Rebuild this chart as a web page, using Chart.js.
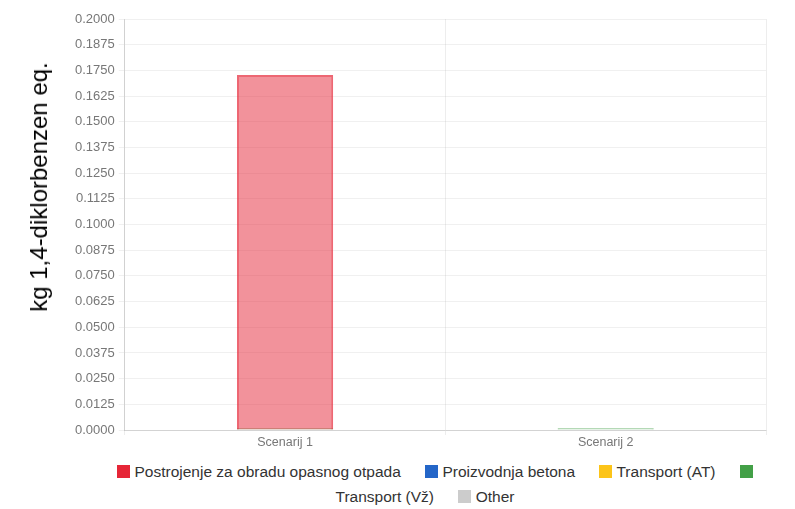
<!DOCTYPE html>
<html>
<head>
<meta charset="utf-8">
<script src="https://cdn.jsdelivr.net/npm/chart.js@4.4.1/dist/chart.umd.min.js"></script>
<style>
  html, body { margin: 0; padding: 0; background: #fff; }
  #wrap { position: relative; width: 795px; height: 509px; overflow: hidden; font-family: "Liberation Sans", Arial, sans-serif; }
  #chartBox { position: absolute; left: 0; top: 0; width: 795px; height: 450px; }
  #yTitle {
    position: absolute; left: 39px; top: 187px;
    transform: translate(-50%, -50%) rotate(-90deg);
    white-space: nowrap; font-size: 24px; color: #000;
  }
  #legend {
    position: absolute; left: 80px; top: 459px; width: 700px;
    text-align: center; font-size: 15.5px; line-height: 25px; color: #333;
  }
  .legend-item { display: inline; margin: 0 10px; }
  .legend-box { display: inline-block; width: 13px; height: 13px; vertical-align: -1px; margin-right: 0px; }
  .legend-label { white-space: nowrap; }
</style>
</head>
<body>
<div id="wrap">
  <div id="chartBox"><canvas id="impactChart"></canvas></div>
  <div id="yTitle">kg 1,4-diklorbenzen eq.</div>
  <div id="legend"></div>
</div>
<script>
// Categories and series
const scenarios = ["Scenarij 1", "Scenarij 2"];
const seriesNames = [
  "Postrojenje za obradu opasnog otpada",
  "Proizvodnja betona",
  "Transport (AT)",
  "Transport (Vž)",
  "Other"
];
const postrojenjeValues = [0.1727, 0];
const betonValues = [0, 0];
const transportAtValues = [0, 0];
const transportVzValues = [0.0008, 0.0008];
const otherValues = [0, 0];
const seriesColors = ["230, 38, 55", "36, 102, 200", "252, 196, 25", "67, 160, 71", "204, 204, 204"];

const yMin = 0;
const yMax = 0.2;
const yStep = 0.0125;

const allValues = [postrojenjeValues, betonValues, transportAtValues, transportVzValues, otherValues];

const datasets = seriesNames.map((name, i) => ({
  label: name,
  data: allValues[i],
  backgroundColor: "rgba(" + seriesColors[i] + ", 0.5)",
  borderColor: "rgba(" + seriesColors[i] + ", 0.7)",
  borderWidth: 2,
  barPercentage: 0.6,
  categoryPercentage: 0.5
}));

const ctx = document.getElementById("impactChart").getContext("2d");
const impactChart = new Chart(ctx, {
  type: "bar",
  data: { labels: scenarios, datasets: datasets },
  options: {
    responsive: true,
    maintainAspectRatio: false,
    animation: false,
    layout: { padding: { left: 71, right: 29, top: 19, bottom: 0 } },
    plugins: {
      legend: { display: false }, // HTML legend below
      tooltip: { enabled: false }
    },
    scales: {
      x: {
        stacked: true, // bars overlap in one slot
        grid: { color: "rgba(0,0,0,0.07)", tickLength: 5 },
        border: { color: "rgba(0,0,0,0.12)" },
        ticks: { color: "#777", font: { family: "'Liberation Sans', Arial, sans-serif", size: 12.5 }, padding: 0 }
      },
      y: {
        stacked: false,
        min: yMin,
        max: yMax,
        grid: { color: "rgba(0,0,0,0.06)", tickLength: 6 },
        border: { color: "rgba(0,0,0,0.12)" },
        ticks: {
          stepSize: yStep,
          color: "#777",
          padding: 4,
          font: { family: "'Liberation Sans', Arial, sans-serif", size: 13 },
          callback: function (value) {
            return Number(value).toFixed(4);
          }
        }
      }
    }
  }
});

// Build HTML legend (wraps like the original)
const legendEl = document.getElementById("legend");
seriesNames.forEach((name, i) => {
  const item = document.createElement("span");
  item.className = "legend-item";
  item.innerHTML = '<span class="legend-box" style="background: rgb(' + seriesColors[i] + ')"></span> <span class="legend-label">' + name + '</span>';
  legendEl.appendChild(item);
  legendEl.appendChild(document.createTextNode(" "));
});
</script>
</body>
</html>
